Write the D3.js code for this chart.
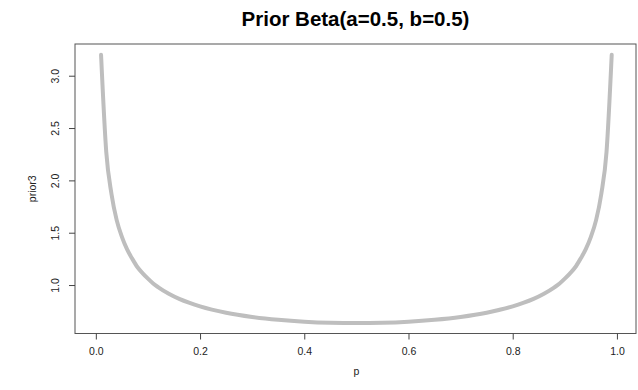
<!DOCTYPE html>
<html>
<head>
<meta charset="utf-8">
<script src="https://cdn.jsdelivr.net/npm/d3@7"></script>
<style>
  body { margin: 0; background: #fff; }
  text { font-family: "Liberation Sans", Arial, sans-serif; }
</style>
</head>
<body>
<div id="chart"></div>
<script>
// values
const pValues = [0.01, 0.02, 0.03, 0.04, 0.05, 0.06, 0.07, 0.08, 0.09, 0.10, 0.11, 0.12, 0.14, 0.16, 0.18, 0.20,
	0.25, 0.30, 0.35, 0.40, 0.45, 0.50, 0.55, 0.60, 0.65, 0.70, 0.75,
	0.80, 0.82, 0.84, 0.86, 0.88, 0.89, 0.90, 0.91, 0.92, 0.93, 0.94, 0.95, 0.96, 0.97, 0.98, 0.99];
const prior3 = [3.20, 2.27, 1.87, 1.62, 1.46, 1.34, 1.25, 1.17, 1.112, 1.061, 1.015, 0.978, 0.917, 0.868, 0.829, 0.796,
	0.735, 0.695, 0.668, 0.650, 0.640, 0.637, 0.640, 0.650, 0.668, 0.695, 0.735,
	0.796, 0.829, 0.868, 0.917, 0.978, 1.015, 1.061, 1.112, 1.17, 1.25, 1.34, 1.46, 1.62, 1.87, 2.27, 3.20];
const xTicks = [0, 0.2, 0.4, 0.6, 0.8, 1.0];
const yTicks = [1.0, 1.5, 2.0, 2.5, 3.0];

const width = 638, height = 390;
const box = {left: 75, right: 636, top: 44, bottom: 333.5};

const svg = d3.select("#chart").append("svg")
	.attr("width", width)
	.attr("height", height);

// scales (R style padding around data range)
const x = d3.scaleLinear().domain([-0.04, 1.0366]).range([box.left, box.right]);
const y = d3.scaleLinear().domain([0.537, 3.303]).range([box.bottom, box.top]);

const data = pValues.map((p, i) => ({p: p, v: prior3[i]}));

// curve
svg.append("path")
	.datum(data)
	.attr("fill", "none")
	.attr("stroke", "#bebebe")
	.attr("stroke-width", 4)
	.attr("stroke-linejoin", "round")
	.attr("stroke-linecap", "round")
	.attr("d", d3.line().x(d => x(d.p)).y(d => y(d.v)).curve(d3.curveMonotoneX));

// box around plot
svg.append("rect")
	.attr("x", box.left)
	.attr("y", box.top)
	.attr("width", box.right - box.left)
	.attr("height", box.bottom - box.top)
	.attr("fill", "none")
	.attr("stroke", "#555")
	.attr("stroke-width", 1);

// x axis
const gx = svg.append("g")
	.attr("transform", "translate(0," + box.bottom + ")")
	.call(d3.axisBottom(x).tickValues(xTicks).tickFormat(d3.format(".1f")).tickSize(6).tickSizeOuter(0));
gx.select(".domain").remove();
gx.selectAll(".tick line").attr("stroke", "#444");
gx.selectAll("text")
	.attr("y", 14)
	.style("font-size", "10.5px")
	.attr("fill", "#222");

// y axis
const gy = svg.append("g")
	.attr("transform", "translate(" + box.left + ",0)")
	.call(d3.axisLeft(y).tickValues(yTicks).tickFormat(d3.format(".1f")).tickSize(6).tickSizeOuter(0));
gy.select(".domain").remove();
gy.selectAll(".tick line").attr("stroke", "#444");
gy.selectAll("text")
	.attr("x", 0).attr("dy", 0).attr("y", 0)
	.attr("transform", "translate(-16,0) rotate(-90)")
	.style("text-anchor", "middle")
	.style("font-size", "10.5px")
	.attr("fill", "#222");

// labels
svg.append("text")
	.attr("x", (box.left + box.right) / 2)
	.attr("y", 26)
	.attr("text-anchor", "middle")
	.style("font-size", "20.5px")
	.style("font-weight", "bold")
	.text("Prior Beta(a=0.5, b=0.5)");

svg.append("text")
	.attr("x", x(0.5))
	.attr("y", 375)
	.attr("text-anchor", "middle")
	.style("font-size", "10.5px")
	.attr("fill", "#222")
	.text("p");

svg.append("text")
	.attr("transform", "translate(36," + (box.top + box.bottom) / 2 + ") rotate(-90)")
	.attr("text-anchor", "middle")
	.style("font-size", "10.5px")
	.attr("fill", "#222")
	.text("prior3");
</script>
</body>
</html>
